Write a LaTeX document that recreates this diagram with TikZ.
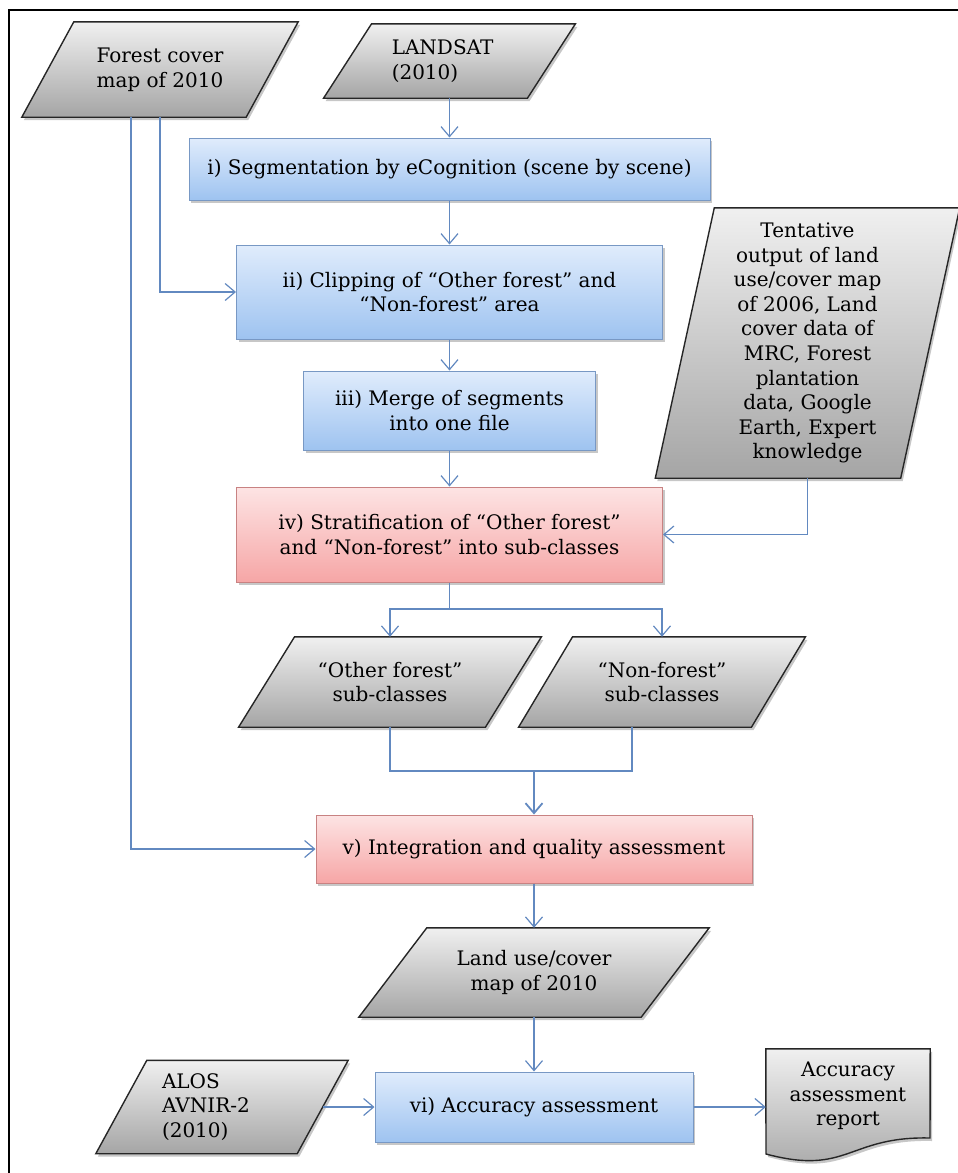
\documentclass[tikz,border=0pt]{standalone}
\usepackage{fontspec}
\setmainfont{DejaVu Serif}
\usetikzlibrary{arrows.meta,shadows,calc}
\pgfdeclarelayer{bg}
\pgfsetlayers{bg,main}
\definecolor{arrc}{RGB}{98,137,192}
\definecolor{blueT}{RGB}{224,236,252}
\definecolor{blueB}{RGB}{158,195,240}
\definecolor{blueD}{RGB}{120,152,196}
\definecolor{redT}{RGB}{253,228,228}
\definecolor{redB}{RGB}{246,166,166}
\definecolor{redD}{RGB}{200,130,130}
\definecolor{grayT}{RGB}{240,240,240}
\definecolor{grayB}{RGB}{165,165,165}
\tikzset{
  txt/.style={font=\fontsize{20}{24.6}\selectfont, align=center, inner sep=0pt},
  shad/.style={drop shadow={shadow xshift=2pt,shadow yshift=-3pt,opacity=0.22,fill=black}},
  bbox/.style={txt, draw=blueD, line width=1pt, top color=blueT, bottom color=blueB, shad},
  rbox/.style={txt, draw=redD, line width=1pt, top color=redT, bottom color=redB, shad},
  pshape/.style={draw=black!85, line width=1.4pt, top color=grayT, bottom color=grayB, shad},
  ln/.style={draw=arrc, line width=1.2pt},
  arr/.style={ln, -{Straight Barb[length=10pt,width=17pt]}},
}
\newcommand\paral[2]{%
  \begin{pgfonlayer}{bg}
  \path[pshape] ([xshift=#2pt]#1.north west) -- ([xshift=#2pt]#1.north east)
     -- ([xshift=-#2pt]#1.south east) -- ([xshift=-#2pt]#1.south west) -- cycle;
  \end{pgfonlayer}}
\begin{document}
\begin{tikzpicture}[x=1pt,y=-1pt]
\useasboundingbox (0,0) rectangle (958,1173);
\draw[line width=1.6pt] (9,1185) -- (9,10) -- (970,10);

% process boxes
\node[bbox, minimum width=521pt, minimum height=62pt] (s1) at (449.5,169) {i) Segmentation by eCognition (scene by scene)};
\node[bbox, minimum width=426pt, minimum height=94pt] (s2) at (449.5,292) {ii) Clipping of “Other forest” and\\“Non-forest” area};
\node[bbox, minimum width=292pt, minimum height=79pt] (s3) at (449.5,410.5) {iii) Merge of segments\\into one file};
\node[rbox, minimum width=426pt, minimum height=95pt] (s4) at (449.5,534.5) {iv) Stratification of “Other forest”\\and “Non-forest” into sub-classes};
\node[rbox, minimum width=436pt, minimum height=68pt] (s5) at (534,849) {v) Integration and quality assessment};
\node[bbox, minimum width=318pt, minimum height=70pt] (s6) at (534,1107) {vi) Accuracy assessment};

% data parallelograms
\node[txt, minimum width=224pt, minimum height=95pt] (fc) at (160,69.5) {Forest cover\\map of 2010};
\paral{fc}{26}
\node[txt, minimum width=203.5pt, minimum height=74pt,
  label={[txt,align=left,anchor=west,xshift=44pt]west:{LANDSAT\\(2010)}}] (ls) at (449.5,61) {};
\paral{ls}{24}
\node[txt, minimum width=245pt, minimum height=270pt] (tt) at (807.5,343) {Tentative\\output of land\\use/cover map\\of 2006, Land\\cover data of\\MRC, Forest\\plantation\\data, Google\\Earth, Expert\\knowledge};
\paral{tt}{29.5}
\node[txt, minimum width=246.5pt, minimum height=90pt] (of) at (390,682) {“Other forest”\\sub-classes};
\paral{of}{28}
\node[txt, minimum width=232.5pt, minimum height=90pt] (nf) at (662,682) {“Non-forest”\\sub-classes};
\paral{nf}{27}
\node[txt, minimum width=282pt, minimum height=89pt] (lu) at (534,972.5) {Land use/cover\\map of 2010};
\paral{lu}{34}
\node[txt, minimum width=201pt, minimum height=93pt,
  label={[txt,align=left,anchor=west,xshift=40.5pt]west:{ALOS\\AVNIR-2\\(2010)}}] (al) at (222,1107) {};
\paral{al}{25.5}

% document
\node[txt, minimum width=164pt, minimum height=94pt] (rep) at (848,1096) {Accuracy\\assessment\\report};
\begin{pgfonlayer}{bg}
\path[pshape] (rep.north west) -- (rep.north east) -- (930,1138)
  .. controls (848,1136) and (848,1176) .. (766,1154) -- cycle;
\end{pgfonlayer}

% connectors
\draw[arr] (ls.south) -- (s1.north);
\draw[arr] (s1.south) -- (s2.north);
\draw[arr] (s2.south) -- (s3.north);
\draw[arr] (s3.south) -- (s4.north);
\draw[arr] (fc.south) |- (s2.west);
\draw[arr] ([xshift=-29pt]fc.south) |- (s5.west);
\draw[arr] (tt.south) |- (s4.east);
\coordinate (br) at (449.5,609);
\draw[ln] (s4.south) -- (br);
\draw[arr] (br) -| (of.north);
\draw[arr] (br) -| (nf.north);
\coordinate (jn) at (534,771);
\draw[ln] (of.south) |- (jn);
\draw[ln] ([xshift=-30pt]nf.south) |- (jn);
\draw[arr, line width=1.8pt] (jn) -- (s5.north);
\draw[arr] (s5.south) -- (lu.north);
\draw[arr] (lu.south) -- (s6.north);
\draw[arr] (al.east) -- (s6.west);
\draw[arr] (s6.east) -- (s6.east -| rep.west);
\end{tikzpicture}
\end{document}
